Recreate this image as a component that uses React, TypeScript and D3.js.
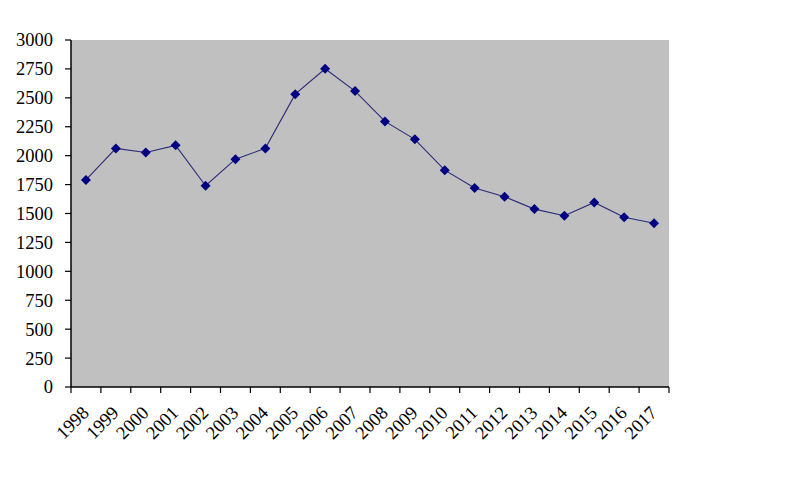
import React from "react";
import * as d3 from "d3";

const years = ["1998","1999","2000","2001","2002","2003","2004","2005","2006","2007","2008","2009","2010","2011","2012","2013","2014","2015","2016","2017"];
const values = [1790,2063,2028,2089,1740,1970,2063,2532,2751,2558,2296,2141,1875,1720,1645,1538,1481,1596,1467,1415];
const yTicks = [0,250,500,750,1000,1250,1500,1750,2000,2250,2500,2750,3000];

export default function App() {
  const W = 794, H = 483;
  const left = 71, right = 669, top = 40, bottom = 387;
  const x = d3.scaleBand<string>().domain(years).range([left, right]);
  const y = d3.scaleLinear().domain([0, 3000]).range([bottom, top]);
  const line = d3.line<number>().x((_, i) => x(years[i])! + x.bandwidth() / 2).y(d => y(d));
  const font = "'Liberation Serif', 'Times New Roman', serif";
  const bounds = years.map(yr => x(yr)!).concat([right]);
  return (
    <svg width={W} height={H} style={{ position: "absolute", left: 0, top: 0, background: "#fff" }}>
      <rect x={left} y={top} width={right - left} height={bottom - top} fill="#c0c0c0" />
      <path d={line(values) || ""} fill="none" stroke="#2a2a78" strokeWidth={1.1} />
      {values.map((v, i) => {
        const cx = x(years[i])! + x.bandwidth() / 2, cy = y(v);
        const r = 5;
        return <path key={i} d={`M${cx},${cy - r}L${cx + r},${cy}L${cx},${cy + r}L${cx - r},${cy}Z`} fill="#000080" />;
      })}
      <line x1={left} x2={left} y1={top} y2={bottom} stroke="#000" strokeWidth={1.5} />
      <line x1={left} x2={right} y1={bottom} y2={bottom} stroke="#000" strokeWidth={1.5} />
      {yTicks.map(t => (
        <g key={t}>
          <line x1={left - 6} x2={left} y1={y(t)} y2={y(t)} stroke="#000" strokeWidth={1.2} />
          <text x={53} y={y(t)} dy="0.35em" textAnchor="end" fontFamily={font} fontSize={18.5} fill="#000">{t}</text>
        </g>
      ))}
      {bounds.map((b, i) => (
        <line key={i} x1={b} x2={b} y1={bottom} y2={bottom + 6} stroke="#000" strokeWidth={1.2} />
      ))}
      {years.map(yr => {
        const cx = x(yr)! + x.bandwidth() / 2 + 4;
        const cy = 414;
        return (
          <text key={yr} transform={`translate(${cx},${cy}) rotate(-45)`} textAnchor="end" fontFamily={font} fontSize={18.5} fill="#000">{yr}</text>
        );
      })}
    </svg>
  );
}
